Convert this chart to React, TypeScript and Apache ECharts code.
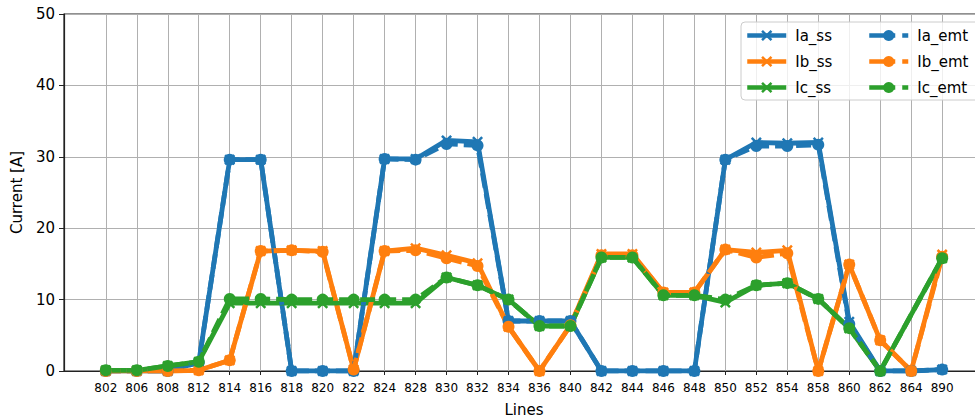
import React, { useEffect, useRef } from "react";
import * as echarts from "echarts";

const lines = ["802","806","808","812","814","816","818","820","822","824","828","830","832","834","836","840","842","844","846","848","850","852","854","858","860","862","864","890"];

const iaSS = [0, 0, 0, 1.2, 29.6, 29.6, 0, 0, 0, 29.7, 29.7, 32.3, 32.1, 7.0, 7.0, 7.0, 0, 0, 0, 0, 29.6, 32.0, 31.9, 32.0, 6.9, 0, 0, 0.2];
const ibSS = [0, 0, 0, 0.1, 1.5, 16.8, 16.9, 16.8, 0.2, 16.8, 17.2, 16.2, 15.1, 6.2, 0, 6.4, 16.4, 16.4, 11.0, 11.0, 17.0, 16.6, 16.9, 0, 14.9, 4.3, 0, 16.3];
const icSS = [0.1, 0.1, 0.7, 1.3, 9.5, 9.5, 9.5, 9.5, 9.5, 9.5, 9.5, 13.1, 12.0, 10.0, 6.3, 6.3, 15.9, 15.9, 10.6, 10.6, 9.6, 12.0, 12.3, 10.1, 6.0, 0, null, 15.8];
const iaEMT = [0, 0, 0, 1.2, 29.6, 29.6, 0, 0, 0, 29.7, 29.6, 31.8, 31.6, 7.0, 7.0, 7.0, 0, 0, 0, 0, 29.6, 31.5, 31.5, 31.7, 6.6, 0, 0, 0.2];
const ibEMT = [0, 0, 0, 0.1, 1.5, 16.8, 16.9, 16.7, 0.2, 16.8, 16.9, 15.8, 14.7, 6.2, 0, 6.4, 16.2, 16.2, 11.0, 11.0, 17.0, 15.9, 16.5, 0, 14.9, 4.3, 0, 16.0];
const icEMT = [0.1, 0.1, 0.7, 1.3, 10.1, 10.1, 10.0, 10.0, 10.0, 10.0, 10.0, 13.1, 12.0, 10.0, 6.3, 6.3, 15.9, 15.9, 10.6, 10.6, 10.0, 12.0, 12.3, 10.1, 6.0, 0, null, 15.8];

const yTicks = [0, 10, 20, 30, 40, 50];

const BLUE = "#1f77b4";
const ORANGE = "#ff7f0e";
const GREEN = "#2ca02c";
const FONT = "DejaVu Sans";
const X_SYMBOL = "path://M0,1.6L1.6,0L5,3.4L8.4,0L10,1.6L6.6,5L10,8.4L8.4,10L5,6.6L1.6,10L0,8.4L3.4,5Z";

function mk(name: string, vals: (number | null)[], color: string, emt: boolean) {
  return {
    name,
    type: "line",
    data: vals.map((v, i) => [i, v]),
    connectNulls: true,
    symbol: emt ? "circle" : X_SYMBOL,
    symbolSize: emt ? 12 : 11,
    showAllSymbol: true,
    itemStyle: { color },
    lineStyle: { color, width: 4.8, type: emt ? [15, 6] : "solid", cap: "butt" },
  };
}

export default function App() {
  const ref = useRef<HTMLDivElement>(null);
  useEffect(() => {
    if (!ref.current) return;
    const chart = echarts.init(ref.current, null, { renderer: "svg" });
    const idx = lines.map((_, i) => i);
    const legendCommon = {
      orient: "vertical",
      top: 28,
      padding: 0,
      itemGap: 11,
      itemWidth: 39,
      itemHeight: 14,
      z: 20,
      lineStyle: { width: 4.5 },
      textStyle: { fontFamily: FONT, fontSize: 15, color: "#000", padding: [0, 0, 0, 4] },
      selectedMode: false,
    };
    const emtItem = (name: string) => ({ name, lineStyle: { width: 4.5, type: [26, 7] } });
    chart.setOption({
      animation: false,
      backgroundColor: "#fff",
      grid: {
        left: 64, right: -9, top: 14, bottom: 49,
        outerBoundsMode: "none",
        containLabel: false,
        show: true, borderColor: "#222", borderWidth: 1.2, backgroundColor: "transparent",
      },
      xAxis: {
        type: "value",
        min: -1.35,
        max: 28.35,
        name: "Lines",
        nameLocation: "middle",
        nameGap: 31,
        nameTextStyle: { fontFamily: FONT, fontSize: 15, color: "#000" },
        axisLine: { show: true, onZero: false, lineStyle: { color: "#222", width: 1.2 } },
        axisTick: { show: true, customValues: idx, length: 4, lineStyle: { color: "#222" } },
        axisLabel: {
          customValues: idx,
          margin: 11,
          fontFamily: FONT,
          fontSize: 12,
          color: "#000",
          formatter: (v: number) => lines[Math.round(v)] ?? "",
        },
        splitLine: { show: true, lineStyle: { color: "#b0b0b0", width: 1 } },
      },
      yAxis: {
        type: "value",
        min: 0,
        max: 50,
        interval: 10,
        name: "Current [A]",
        nameLocation: "middle",
        nameGap: 40,
        nameTextStyle: { fontFamily: FONT, fontSize: 15, color: "#000" },
        axisLine: { show: true, onZero: false, lineStyle: { color: "#222", width: 1.2 } },
        axisTick: { show: true, length: 5, lineStyle: { color: "#222" } },
        axisLabel: {
          margin: 9,
          fontFamily: FONT,
          fontSize: 15,
          color: "#000",
          formatter: (v: number) => (yTicks.includes(v) ? String(v) : ""),
        },
        splitLine: { show: true, lineStyle: { color: "#b0b0b0", width: 1 } },
      },
      graphic: [
        {
          type: "rect",
          z: 15,
          shape: { x: 741, y: 22, width: 250, height: 78, r: 4 },
          style: { fill: "rgba(255,255,255,0.8)", stroke: "#cccccc", lineWidth: 1 },
        },
      ],
      legend: [
        { ...legendCommon, left: 745, data: ["Ia_ss", "Ib_ss", "Ic_ss"] },
        { ...legendCommon, left: 867, data: [emtItem("Ia_emt"), emtItem("Ib_emt"), emtItem("Ic_emt")] },
      ],
      series: [
        mk("Ia_ss", iaSS, BLUE, false),
        mk("Ib_ss", ibSS, ORANGE, false),
        mk("Ic_ss", icSS, GREEN, false),
        mk("Ia_emt", iaEMT, BLUE, true),
        mk("Ib_emt", ibEMT, ORANGE, true),
        mk("Ic_emt", icEMT, GREEN, true),
      ],
    });
    return () => chart.dispose();
  }, []);
  return <div ref={ref} style={{ position: "absolute", left: 0, top: 0, width: 975, height: 420 }} />;
}
